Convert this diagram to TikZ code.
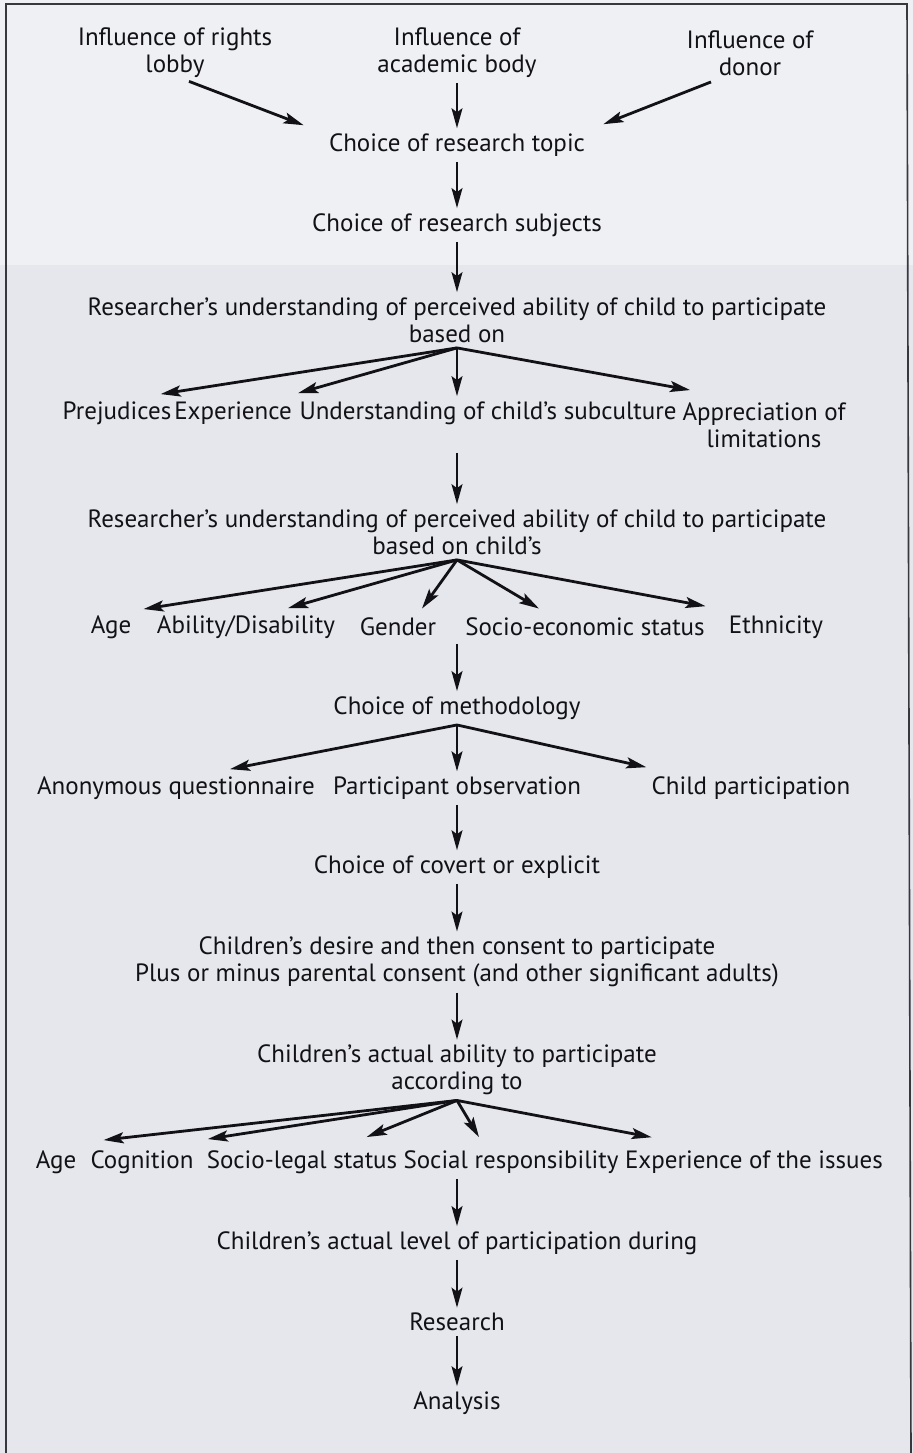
\documentclass[tikz,border=0pt]{standalone}
\usepackage{fontspec}
\setmainfont{PT Sans}
\usetikzlibrary{calc,arrows.meta}
\definecolor{inkcol}{RGB}{18,18,22}
\definecolor{bgtop}{RGB}{239,240,244}
\definecolor{bgmain}{RGB}{229,231,237}
\definecolor{framecol}{RGB}{55,55,62}
\begin{document}
\begin{tikzpicture}[x=0.5pt,y=-0.5pt,
  lbl/.style={font=\fontsize{12.5}{13.5}\selectfont, text=inkcol, align=center, inner sep=2.5pt},
  flow/.style={inkcol, line width=0.8pt, -{Stealth[length=10pt,width=5.5pt,inset=2pt]}},
  branch/.style={inkcol, line width=1.4pt, -{Stealth[length=10pt,width=5.5pt,inset=2pt]}}]
\useasboundingbox (0,0) rectangle (913,1453);
\fill[bgtop] (0,0) rectangle (913,265);
\fill[bgmain] (0,265) rectangle (913,1453);
\draw[framecol,line width=0.8pt] (6,1453) -- (6,4) -- (907,4) -- (911,1453);
\node[lbl] (lobby) at (175,53) {Influence of rights\\lobby};
\node[lbl] (academic) at (457,53) {Influence of\\academic body};
\node[lbl] (donor) at (750,53) {Influence of\\donor};
\node[lbl] (topic) at (457,145) {Choice of research topic};
\node[lbl] (subjects) at (457,225) {Choice of research subjects};
\node[lbl] (basedon) at (457,320) {Researcher’s understanding of perceived ability of child to participate\\based on};
\node[lbl] (prej) at (117,413) {Prejudices};
\node[lbl] (exper) at (233,413) {Experience};
\node[lbl] (subcult) at (488,413) {Understanding of child’s subculture};
\node[lbl] (apprec) at (764,425) {Appreciation of\\limitations};
\node[lbl] (childs) at (457,532) {Researcher’s understanding of perceived ability of child to participate\\based on child’s};
\node[lbl] (age) at (111,627) {Age};
\node[lbl] (ability) at (246,627) {Ability/Disability};
\node[lbl] (gender) at (398,627) {Gender};
\node[lbl] (socio) at (585,627) {Socio-economic status};
\node[lbl] (ethnic) at (776,627) {Ethnicity};
\node[lbl] (method) at (457,708) {Choice of methodology};
\node[lbl] (anon) at (176,788) {Anonymous questionnaire};
\node[lbl] (partobs) at (457,788) {Participant observation};
\node[lbl] (childpart) at (751,788) {Child participation};
\node[lbl] (covert) at (457,867) {Choice of covert or explicit};
\node[lbl] (consent) at (457,962) {Children’s desire and then consent to participate\\Plus or minus parental consent (and other significant adults)};
\node[lbl] (actual) at (457,1070) {Children’s actual ability to participate\\according to};
\node[lbl] (ageb) at (56,1162) {Age};
\node[lbl] (cognition) at (142,1162) {Cognition};
\node[lbl] (legal) at (302,1162) {Socio-legal status};
\node[lbl] (social) at (511,1162) {Social responsibility};
\node[lbl] (issues) at (754,1162) {Experience of the issues};
\node[lbl] (level) at (457,1243) {Children’s actual level of participation during};
\node[lbl] (research) at (457,1322) {Research};
\node[lbl] (analysis) at (457,1403) {Analysis};
\draw[branch] ($(lobby.south)+(14,-2)$) -- ($(topic.north west)+(-20,-3)$);
\draw[flow] (academic.south) -- (topic.north);
\draw[branch] ($(donor.south)+(-39,1)$) -- ($(topic.north east)+(13,-4)$);
\draw[flow] (topic.south) -- (subjects.north);
\draw[flow] (subjects.south) -- (basedon.north);
\draw[branch] (basedon.south) -- ($(prej.north east)+(-16,-2)$);
\draw[branch] (basedon.south) -- ($(subcult.north west)+(4,-3)$);
\draw[flow] (basedon.south) -- (basedon.south |- subcult.north);
\draw[branch] (basedon.south) -- ($(apprec.north west)+(13,-7)$);
\draw[flow] (childs.north |- apprec.south) -- (childs.north);
\draw[branch] (childs.south) -- ($(age.north east)+(7,-1)$);
\draw[branch] (childs.south) -- ($(ability.north)+(42,-2)$);
\draw[branch] (childs.south) -- ($(gender.north)+(24,-4)$);
\draw[branch] (childs.south) -- ($(socio.north)+(-46,-4)$);
\draw[branch] (childs.south) -- ($(ethnic.north west)+(-18,-4)$);
\draw[flow] (method.north |- ability.south) -- (method.north);
\draw[branch] (method.south) -- ($(anon.north)+(54,-2)$);
\draw[flow] (method.south) -- (partobs.north);
\draw[branch] (method.south) -- ($(childpart.north west)+(0,-4)$);
\draw[flow] (partobs.south) -- (covert.north);
\draw[flow] (covert.south) -- (consent.north);
\draw[flow] (consent.south) -- (actual.north);
\draw[branch] (actual.south) -- ($(ageb.north east)+(22,-5)$);
\draw[branch] (actual.south) -- ($(cognition.north east)+(9,-6)$);
\draw[branch] (actual.south) -- ($(legal.north east)+(-36,-8)$);
\draw[branch] (actual.south) -- ($(social.north)+(-32,-8)$);
\draw[branch] (actual.south) -- ($(issues.north west)+(32,-8)$);
\draw[flow] (level.north |- cognition.south) -- (level.north);
\draw[flow] (level.south) -- (research.north);
\draw[flow] (research.south) -- (analysis.north);
\end{tikzpicture}
\end{document}
